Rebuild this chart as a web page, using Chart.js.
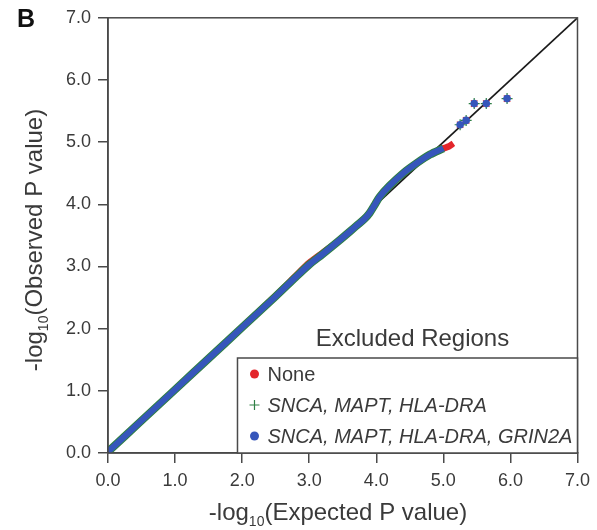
<!DOCTYPE html>
<html>
<head>
<meta charset="utf-8">
<script src="https://cdn.jsdelivr.net/npm/chart.js@4.4.1/dist/chart.umd.min.js"></script>
<style>
  html, body { margin: 0; padding: 0; background: #fff; }
</style>
</head>
<body>
<canvas id="qqChart" width="597" height="530"></canvas>
<script>
// Данные QQ-графика (-log10 P)
const bandExpected = [0.0, 0.5, 1.0, 1.5, 2.0, 2.5, 2.8, 3.0, 3.2, 3.45, 3.7, 3.82, 3.9, 3.97, 4.05, 4.2, 4.4, 4.6, 4.8, 5.0];
const noneObserved = [0.02, 0.52, 1.02, 1.52, 2.02, 2.53, 2.85, 3.06, 3.22, 3.42, 3.65, 3.76, 3.86, 3.98, 4.12, 4.3, 4.5, 4.66, 4.8, 4.9];
const plusObserved = [0.02, 0.52, 1.02, 1.52, 2.02, 2.52, 2.83, 3.03, 3.2, 3.42, 3.65, 3.76, 3.86, 3.98, 4.12, 4.3, 4.5, 4.66, 4.8, 4.9];
const blueObserved = [0.02, 0.52, 1.02, 1.52, 2.02, 2.52, 2.83, 3.03, 3.2, 3.42, 3.65, 3.76, 3.86, 3.98, 4.12, 4.3, 4.5, 4.66, 4.8, 4.9];

// Хвост красной серии (чуть длиннее остальных)
const noneTailExpected = [5.0, 5.08, 5.15];
const noneTailObserved = [4.9, 4.93, 4.98];

// Отдельные точки вверху (общие для всех трёх серий)
const topExpected = [5.25, 5.34, 5.46, 5.64, 5.95];
const topObserved = [5.28, 5.35, 5.62, 5.62, 5.7];

const diagonal = [0, 7];
const tickValues = [0, 1, 2, 3, 4, 5, 6, 7];

const legendLabels = ["None", "SNCA, MAPT, HLA-DRA", "SNCA, MAPT, HLA-DRA, GRIN2A"];
const legendTitle = "Excluded Regions";

const RED = "#e3262b";
const GREEN = "#2f8045";
const BLUE = "#3656bb";
const AXIS = "#4a4a4a";
const TEXT = "#3a3a3a";
const FONT = "'Liberation Sans', Arial, sans-serif";

function pts(xs, ys) {
  return xs.map((x, i) => ({ x: x, y: ys[i] }));
}

// Рисуем текст вида -log<sub>10</sub>(...)
function drawLogTitle(ctx, rest, cx, cy, size) {
  const big = size + "px " + FONT;
  const small = Math.round(size * 0.58) + "px " + FONT;
  ctx.font = big;
  const w1 = ctx.measureText("-log").width;
  const w3 = ctx.measureText(rest).width;
  ctx.font = small;
  const w2 = ctx.measureText("10").width;
  let x = cx - (w1 + w2 + w3) / 2;
  ctx.textBaseline = "middle";
  ctx.textAlign = "left";
  ctx.font = big;
  ctx.fillText("-log", x, cy);
  x += w1;
  ctx.font = small;
  ctx.fillText("10", x, cy + size * 0.38);
  x += w2;
  ctx.font = big;
  ctx.fillText(rest, x, cy);
}

const decorPlugin = {
  id: "decor",
  afterDatasetsDraw(chart) {
    const { ctx, chartArea } = chart;
    ctx.save();
    // рамка вокруг области графика
    ctx.strokeStyle = AXIS;
    ctx.lineWidth = 1.5;
    ctx.strokeRect(chartArea.left, chartArea.top, chartArea.right - chartArea.left, chartArea.bottom - chartArea.top);

    // легенда в правом нижнем углу
    const boxL = chartArea.right - 340;
    const boxT = chartArea.bottom - 95;
    ctx.fillStyle = "#fff";
    ctx.fillRect(boxL, boxT, chartArea.right - boxL, chartArea.bottom - boxT);
    ctx.strokeRect(boxL, boxT, chartArea.right - boxL, chartArea.bottom - boxT);

    ctx.fillStyle = TEXT;
    ctx.font = "24px " + FONT;
    ctx.textAlign = "center";
    ctx.textBaseline = "middle";
    ctx.fillText(legendTitle, chartArea.right - 165, boxT - 19);

    const markers = [
      { style: "circle", color: RED, radius: 4.5 },
      { style: "cross", color: GREEN, radius: 5 },
      { style: "circle", color: BLUE, radius: 4.5 }
    ];
    legendLabels.forEach((label, i) => {
      const y = boxT + 16 + i * 31;
      const m = markers[i];
      const mx = boxL + 17;
      ctx.fillStyle = m.color;
      ctx.strokeStyle = m.color;
      ctx.beginPath();
      if (m.style === "circle") {
        ctx.arc(mx, y, m.radius, 0, Math.PI * 2);
        ctx.fill();
      } else {
        ctx.lineWidth = 1.2;
        ctx.moveTo(mx - m.radius, y);
        ctx.lineTo(mx + m.radius, y);
        ctx.moveTo(mx, y - m.radius);
        ctx.lineTo(mx, y + m.radius);
        ctx.stroke();
      }
      ctx.fillStyle = TEXT;
      ctx.font = (i === 0 ? "" : "italic ") + "20px " + FONT;
      ctx.textAlign = "left";
      ctx.fillText(label, boxL + 30, y + 1);
    });

    // подписи осей
    ctx.fillStyle = TEXT;
    drawLogTitle(ctx, "(Expected P value)", 338, 513, 24);
    ctx.save();
    ctx.translate(35, 240);
    ctx.rotate(-Math.PI / 2);
    drawLogTitle(ctx, "(Observed P value)", 0, 0, 24);
    ctx.restore();

    // буква панели
    ctx.font = "bold 25px " + FONT;
    ctx.fillStyle = "#111";
    ctx.textAlign = "left";
    ctx.fillText("B", 17, 20);
    ctx.restore();
  }
};

const ctx = document.getElementById("qqChart").getContext("2d");

new Chart(ctx, {
  type: "scatter",
  data: {
    datasets: [
      {
        label: "diagonal",
        data: pts(diagonal, diagonal),
        showLine: true,
        borderColor: "#1a1a1a",
        borderWidth: 1.8,
        pointRadius: 0,
        order: 10
      },
      {
        label: legendLabels[0],
        data: pts(bandExpected.concat(noneTailExpected.slice(1)), noneObserved.concat(noneTailObserved.slice(1))),
        showLine: true,
        borderColor: RED,
        borderWidth: 6.5,
        tension: 0.3,
        pointRadius: 0,
        order: 5
      },
      {
        label: legendLabels[1],
        data: pts(bandExpected, plusObserved),
        showLine: true,
        borderColor: GREEN,
        borderWidth: 8,
        tension: 0.3,
        pointRadius: 0,
        order: 4
      },
      {
        label: legendLabels[2],
        data: pts(bandExpected, blueObserved),
        showLine: true,
        borderColor: BLUE,
        borderWidth: 6,
        tension: 0.3,
        pointRadius: 0,
        order: 3
      },
      {
        label: "top none",
        data: pts(topExpected, topObserved),
        pointStyle: "crossRot",
        pointRadius: 4.5,
        borderColor: RED,
        borderWidth: 1.2,
        order: 2
      },
      {
        label: "top plus",
        data: pts(topExpected, topObserved),
        pointStyle: "cross",
        pointRadius: 5.5,
        borderColor: GREEN,
        borderWidth: 1.2,
        order: 1
      },
      {
        label: "top blue",
        data: pts(topExpected, topObserved),
        pointStyle: "circle",
        pointRadius: 3.8,
        backgroundColor: BLUE,
        borderColor: BLUE,
        borderWidth: 0,
        order: 0
      }
    ]
  },
  options: {
    responsive: false,
    animation: false,
    layout: { padding: { left: 0, top: 17, right: 19, bottom: 0 } },
    plugins: {
      legend: { display: false },
      tooltip: { enabled: false }
    },
    scales: {
      x: {
        type: "linear",
        min: 0,
        max: 7,
        afterFit(scale) { scale.height = 77; },
        afterBuildTicks(scale) { scale.ticks = tickValues.map(v => ({ value: v })); },
        ticks: {
          callback: v => v.toFixed(1),
          color: TEXT,
          font: { family: FONT, size: 18 },
          padding: 7,
          maxRotation: 0
        },
        grid: { drawOnChartArea: false, drawTicks: true, tickLength: 10, color: AXIS, lineWidth: 1.5 },
        border: { color: AXIS, width: 1.5 }
      },
      y: {
        type: "linear",
        min: 0,
        max: 7,
        afterFit(scale) { scale.width = 108; },
        afterBuildTicks(scale) { scale.ticks = tickValues.map(v => ({ value: v })); },
        ticks: {
          callback: v => v.toFixed(1),
          color: TEXT,
          font: { family: FONT, size: 18 },
          padding: 7
        },
        grid: { drawOnChartArea: false, drawTicks: true, tickLength: 10, color: AXIS, lineWidth: 1.5 },
        border: { color: AXIS, width: 1.5 }
      }
    }
  },
  plugins: [decorPlugin]
});
</script>
</body>
</html>
